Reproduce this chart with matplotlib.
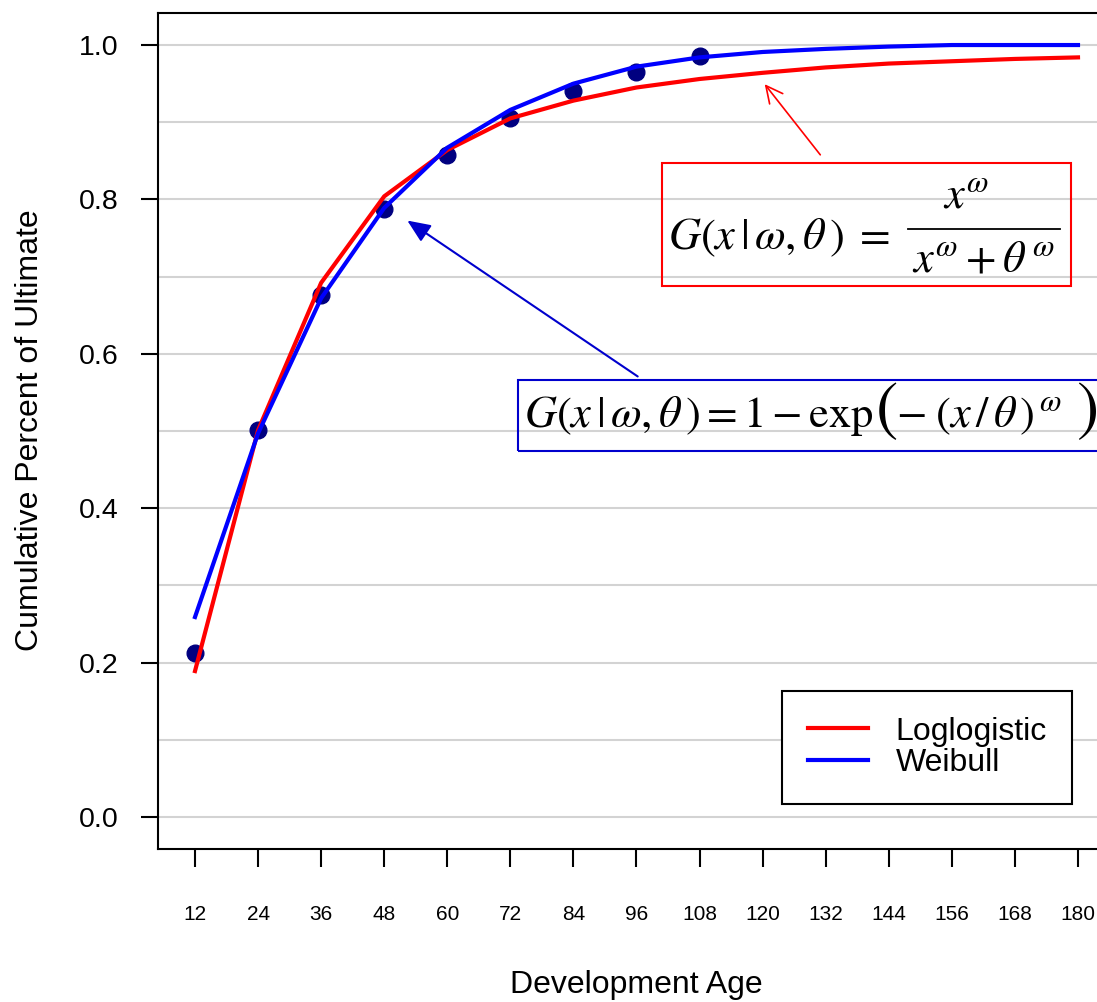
import numpy as np
import matplotlib
matplotlib.use("Agg")
import matplotlib.pyplot as plt
from matplotlib.patches import Rectangle, FancyArrowPatch
from matplotlib.lines import Line2D

plt.rcParams['font.family'] = ['Liberation Sans', 'DejaVu Sans']
plt.rcParams['mathtext.fontset'] = 'stix'

# development ages (months)
ages = [12, 24, 36, 48, 60, 72, 84, 96, 108, 120, 132, 144, 156, 168, 180]

# observed cumulative percent (first 9 ages)
obs_ages = [12, 24, 36, 48, 60, 72, 84, 96, 108]
observed = [0.212, 0.501, 0.676, 0.787, 0.8575, 0.905, 0.941, 0.965, 0.986]

# fitted curves
loglogistic = [0.189, 0.501, 0.692, 0.804, 0.864, 0.905, 0.928, 0.945, 0.956,
               0.964, 0.971, 0.976, 0.979, 0.982, 0.984]
weibull = [0.259, 0.497, 0.672, 0.789, 0.867, 0.916, 0.950, 0.972, 0.984,
           0.991, 0.995, 0.998, 1.0, 1.0, 1.0]

W, H = 1097, 1002


def fp(x, y):
    # pixel (top-left origin) -> figure fraction
    return x / W, 1 - y / H


fig = plt.figure(figsize=(W / 100, H / 100), dpi=100)
ax = fig.add_axes([158 / W, 1 - 849 / H, (1113 - 158) / W, (849 - 13) / H])

for yv in np.arange(0, 1.01, 0.1):
    ax.axhline(yv, color='#d3d3d3', lw=1.5, zorder=0)

ax.plot(obs_ages, observed, 'o', color='#000080', ms=12, zorder=2)
ax.plot(ages, loglogistic, color='#ff0000', lw=3, label='Loglogistic', zorder=3)
ax.plot(ages, weibull, color='#0000ff', lw=3, label='Weibull', zorder=4)

ax.set_xlim(4.96, 186.66)
ax.set_ylim(-0.0415, 1.0415)
ax.set_xticks(ages)
ax.set_xticklabels([str(a) for a in ages], fontsize=15)
ax.set_yticks([0, 0.2, 0.4, 0.6, 0.8, 1.0])
ax.set_yticklabels(['0.0', '0.2', '0.4', '0.6', '0.8', '1.0'], fontsize=20.5)
ax.tick_params(axis='x', length=13, width=1.5, pad=27)
ax.tick_params(axis='y', length=12.5, width=1.5, pad=16)
for s in ['left', 'bottom', 'top']:
    ax.spines[s].set_linewidth(1.5)
ax.spines['right'].set_visible(False)

fig.text(*fp(636, 985), 'Development Age', ha='center', va='center', fontsize=23)
fig.text(*fp(30, 430), 'Cumulative Percent of Ultimate', rotation=90,
         ha='center', va='center', fontsize=23)

leg = ax.legend(loc='upper left', bbox_to_anchor=fp(782, 691),
                bbox_transform=fig.transFigure, fontsize=23, frameon=True,
                fancybox=False, edgecolor='black', framealpha=1,
                handlelength=1.9, handletextpad=0.85, borderpad=0.8,
                labelspacing=0.05, borderaxespad=0)
leg.get_frame().set_linewidth(1.5)

# formula boxes
x0, y0 = fp(662, 286)
fig.patches.append(Rectangle((x0, y0), (1071 - 662) / W, (286 - 163) / H,
                             transform=fig.transFigure, fill=False,
                             edgecolor='#ff0000', lw=1.5, zorder=5))
x0, y0 = fp(518, 451)
fig.patches.append(Rectangle((x0, y0), (1110 - 518) / W, (451 - 380) / H,
                             transform=fig.transFigure, fill=False,
                             edgecolor='#0000cd', lw=1.5, zorder=5))

# loglogistic formula, fraction drawn by hand
fig.text(*fp(668, 238), r'$G(x\,|\,\omega,\theta\,)\;=$', fontsize=32,
         ha='left', va='center')
fig.text(*fp(966, 196), r'$x^{\omega}$', fontsize=32, ha='center', va='center')
fig.text(*fp(984, 260), r'$x^{\omega}+\theta^{\,\omega}$', fontsize=32,
         ha='center', va='center')
fig.add_artist(Line2D([908 / W, 1060 / W], [1 - 229 / H, 1 - 229 / H],
                      transform=fig.transFigure, color='black', lw=1.3))

# weibull formula with large parentheses
fig.text(*fp(524, 416), r'$G(x\,|\,\omega,\theta\,) = 1 - \mathrm{exp}$',
         fontsize=32, ha='left', va='center')
fig.text(*fp(876, 413), '(', fontsize=48, ha='left', va='center',
         family='STIXGeneral')
fig.text(*fp(896, 416), r'$-\;(x\,/\,\theta\,)^{\,\omega}$', fontsize=32,
         ha='left', va='center')
fig.text(*fp(1076, 413), ')', fontsize=48, ha='left', va='center',
         family='STIXGeneral')

# arrows
fig.add_artist(FancyArrowPatch(
    fp(822, 157), fp(763, 82), transform=fig.transFigure,
    arrowstyle='->,head_length=12,head_width=6', color='#ff0000', lw=1.2,
    mutation_scale=1))
fig.add_artist(FancyArrowPatch(
    fp(640, 378), fp(405, 219), transform=fig.transFigure,
    arrowstyle='-|>,head_length=14,head_width=6', color='#0000cd', lw=1.5,
    mutation_scale=1))

fig.savefig('out.png', dpi=100)
